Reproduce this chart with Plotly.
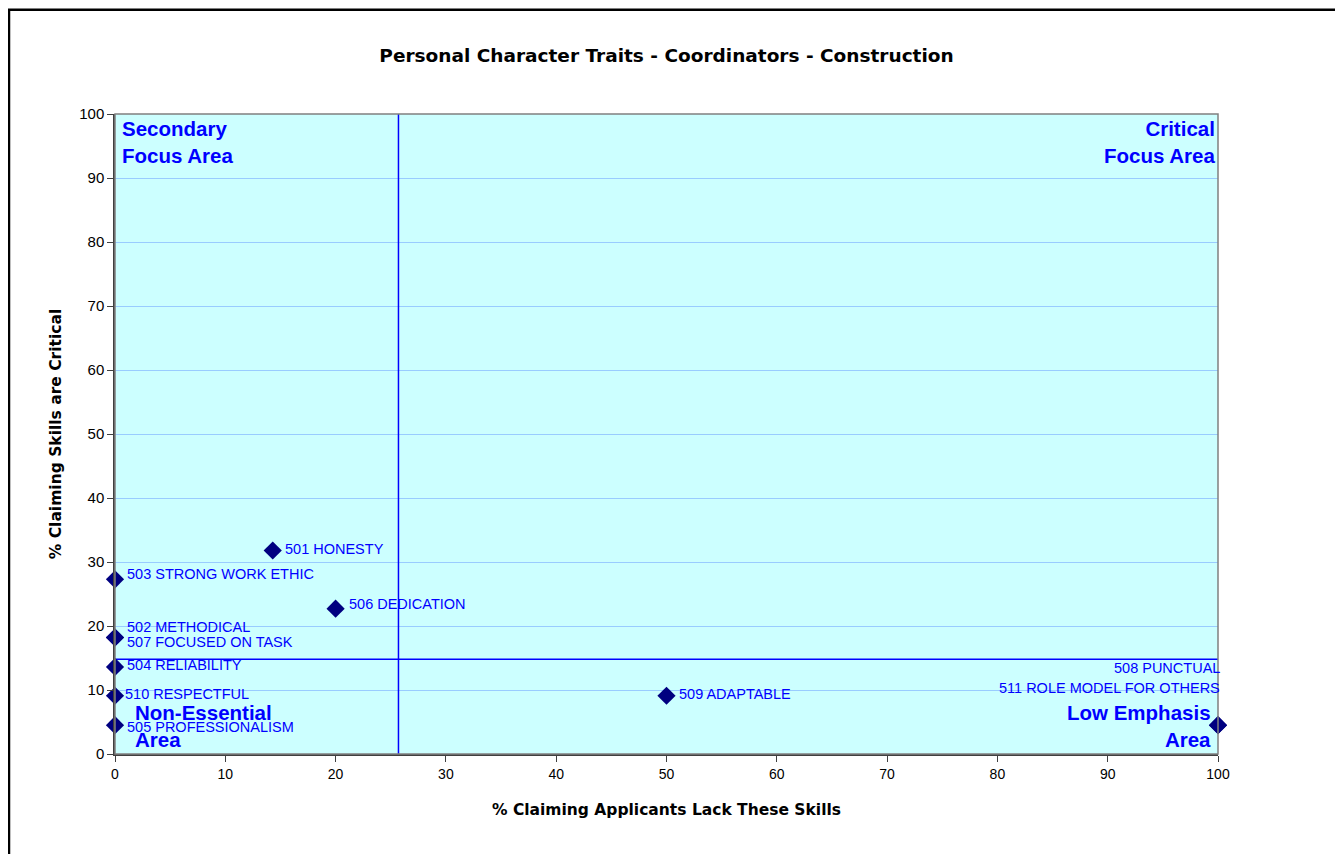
import plotly.graph_objects as go

# data
labels = ["501 HONESTY", "503 STRONG WORK ETHIC", "506 DEDICATION", "502 METHODICAL",
          "507 FOCUSED ON TASK", "504 RELIABILITY", "510 RESPECTFUL", "505 PROFESSIONALISM",
          "509 ADAPTABLE", "508 PUNCTUAL", "511 ROLE MODEL FOR OTHERS"]
lack_pct = [14.3, 0, 20, 0, 0, 0, 0, 0, 50, 100, 100]
critical_pct = [31.8, 27.3, 22.7, 18.2, 18.2, 13.6, 9.1, 4.5, 9.1, 4.5, 4.5]

# label offsets (px) so overlapping labels stay readable
label_shift = [(10, 1), (10, 5), (11, 5), (10, 11), (10, -4), (10, 2), (8, 2), (10, -2),
               (10, 2), (4, 57), (4, 37)]
label_anchor = ["left"] * 9 + ["right", "right"]

x_split = 25.7
y_split = 14.8
x_range = [0, 100]
y_range = [0, 100]

FONT = "Liberation Sans, Arial"
WIDE = "DejaVu Sans, Liberation Sans, Arial"
BLUE = "#0000FF"

fig = go.Figure()

# quadrant dividers
fig.add_trace(go.Scatter(x=[x_split, x_split], y=y_range, mode="lines",
                         line=dict(color=BLUE, width=1.5), hoverinfo="skip"))
fig.add_trace(go.Scatter(x=x_range, y=[y_split, y_split], mode="lines",
                         line=dict(color=BLUE, width=1.5), hoverinfo="skip"))

fig.add_trace(go.Scatter(
    x=lack_pct, y=critical_pct, mode="markers", text=labels,
    marker=dict(symbol="diamond", size=14, color="#000080"),
    cliponaxis=False, hoverinfo="text"
))

for lab, xv, yv, (dx, dy), anc in zip(labels, lack_pct, critical_pct, label_shift, label_anchor):
    fig.add_annotation(x=xv, y=yv, text=lab, showarrow=False, xanchor=anc,
                       xshift=dx, yshift=dy, font=dict(family=FONT, size=14.5, color=BLUE))

quad_font = dict(family=FONT, size=20.5, color=BLUE)
fig.add_annotation(x=0, y=100, text="<b>Secondary<br>Focus Area</b>", showarrow=False,
                   xanchor="left", yanchor="top", align="left", xshift=5, yshift=-1, font=quad_font)
fig.add_annotation(x=100, y=100, text="<b>Critical<br>Focus Area</b>", showarrow=False,
                   xanchor="right", yanchor="top", align="right", xshift=-1, yshift=-1, font=quad_font)
fig.add_annotation(x=0, y=0, text="<b>Non-Essential<br>Area</b>", showarrow=False,
                   xanchor="left", yanchor="bottom", align="left", xshift=18, yshift=1, font=quad_font)
fig.add_annotation(x=100, y=0, text="<b>Low Emphasis<br>Area</b>", showarrow=False,
                   xanchor="right", yanchor="bottom", align="right", xshift=-5, yshift=1, font=quad_font)

# outer frame and grey plot border
fig.add_shape(type="rect", xref="paper", yref="paper", x0=-0.0961, x1=1.1106, y0=-0.25, y1=1.163,
              line=dict(color="black", width=2.5), layer="below")
fig.add_shape(type="rect", xref="paper", yref="paper", x0=0, x1=1, y0=0, y1=1,
              line=dict(color="#808080", width=1.5))

fig.update_layout(
    width=1343, height=854,
    margin=dict(l=107, r=133, t=106, b=108),
    paper_bgcolor="white", plot_bgcolor="#CCFFFF",
    showlegend=False,
    title=dict(text="<b>Personal Character Traits - Coordinators - Construction</b>",
               x=0.5, xref="paper", xanchor="center", y=1 - 48 / 854, yanchor="middle",
               font=dict(family=WIDE, size=18.5, color="black")),
    font=dict(family=FONT, size=14, color="black"),
)
fig.update_xaxes(range=x_range, dtick=10, showgrid=False, zeroline=False,
                 showline=True, linecolor="#404040", linewidth=1.5,
                 ticks="outside", ticklen=6, tickcolor="#404040",
                 tickfont=dict(family=FONT, size=14),
                 title=dict(text="<b>% Claiming Applicants Lack These Skills</b>",
                            font=dict(family=WIDE, size=15.5), standoff=24))
fig.update_yaxes(range=y_range, dtick=10, showgrid=True, gridcolor="#99CCFF", gridwidth=1,
                 zeroline=False, showline=True, linecolor="#404040", linewidth=1.5,
                 ticks="outside", ticklen=6, tickcolor="#404040",
                 tickfont=dict(family=FONT, size=15),
                 title=dict(text="<b>% Claiming Skills are Critical</b>",
                            font=dict(family=WIDE, size=15.5), standoff=14))

fig.write_html("out.html")
